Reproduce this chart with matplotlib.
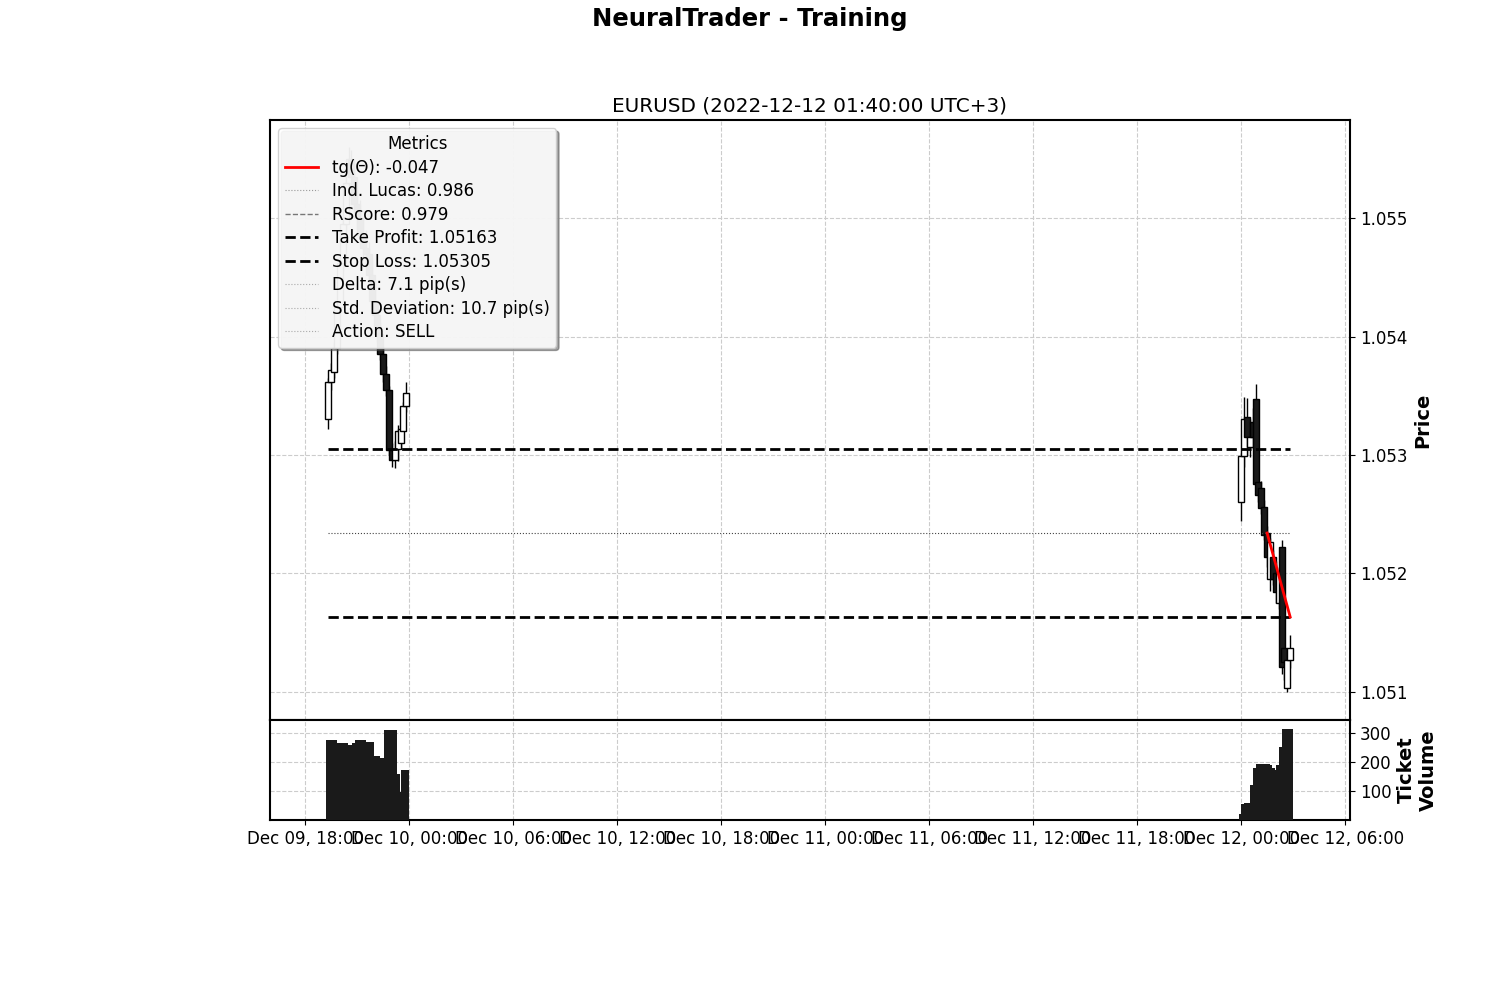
import numpy as np
import pandas as pd
import matplotlib
matplotlib.use("Agg")
import matplotlib.pyplot as plt
import matplotlib.dates as mdates
from matplotlib.lines import Line2D

# EURUSD 10-minute bars, two sessions (Fri evening / Mon morning)
left_times = pd.date_range("2022-12-09 19:20", "2022-12-09 23:50", freq="10min")
right_times = pd.date_range("2022-12-12 00:00", "2022-12-12 02:50", freq="10min")

opens_left = [1.05330, 1.05362, 1.05370, 1.05390, 1.05425, 1.05462, 1.05495, 1.05530,
              1.05550, 1.05535, 1.05512, 1.05500, 1.05486, 1.05475, 1.05470, 1.05452,
              1.05430, 1.05418, 1.05402, 1.05385, 1.05368, 1.05355, 1.05304, 1.05296,
              1.05305, 1.05310, 1.05320, 1.05341]
highs_left = [1.05365, 1.05378, 1.05395, 1.05430, 1.05470, 1.05500, 1.05540, 1.05560,
              1.05558, 1.05545, 1.05525, 1.05515, 1.05500, 1.05490, 1.05480, 1.05465,
              1.05445, 1.05428, 1.05412, 1.05392, 1.05375, 1.05358, 1.05310, 1.05312,
              1.05325, 1.05330, 1.05345, 1.05362]
lows_left = [1.05322, 1.05355, 1.05365, 1.05385, 1.05420, 1.05455, 1.05490, 1.05520,
             1.05525, 1.05505, 1.05490, 1.05478, 1.05465, 1.05462, 1.05445, 1.05425,
             1.05410, 1.05395, 1.05380, 1.05362, 1.05350, 1.05300, 1.05290, 1.05289,
             1.05295, 1.05305, 1.05315, 1.05336]
closes_left = [1.05362, 1.05372, 1.05390, 1.05425, 1.05462, 1.05495, 1.05530, 1.05550,
               1.05535, 1.05512, 1.05500, 1.05486, 1.05475, 1.05470, 1.05452, 1.05430,
               1.05418, 1.05402, 1.05385, 1.05368, 1.05355, 1.05304, 1.05296, 1.05305,
               1.05320, 1.05322, 1.05341, 1.05352]
volume_left = [276, 276, 276, 265, 265, 265, 265, 259, 259, 265, 276, 276, 276, 269,
               269, 269, 221, 221, 214, 214, 310, 310, 310, 310, 159, 97, 172, 172]

opens_right = [1.05260, 1.05299, 1.05332, 1.05307, 1.05328, 1.05347, 1.05277, 1.05272,
               1.05256, 1.05234, 1.05195, 1.05214, 1.05200, 1.05175, 1.05222, 1.05137,
               1.05103, 1.05127]
highs_right = [1.05302, 1.05349, 1.05348, 1.05330, 1.05340, 1.05360, 1.05285, 1.05278,
               1.05262, 1.05240, 1.05230, 1.05220, 1.05210, 1.05205, 1.05228, 1.05150,
               1.05130, 1.05148]
lows_right = [1.05244, 1.05290, 1.05300, 1.05298, 1.05305, 1.05270, 1.05260, 1.05250,
              1.05228, 1.05205, 1.05185, 1.05190, 1.05175, 1.05170, 1.05115, 1.05110,
              1.05100, 1.05120]
closes_right = [1.05299, 1.05330, 1.05315, 1.05315, 1.05315, 1.05275, 1.05266, 1.05255,
                1.05232, 1.05214, 1.05226, 1.05195, 1.05184, 1.05200, 1.05121, 1.05125,
                1.05127, 1.05137]
volume_right = [20, 55, 58, 60, 120, 180, 193, 193, 193, 193, 190, 180, 172, 190,
                252, 314, 314, 314]

stop_loss = 1.05305
take_profit = 1.05163
mean_price = 1.05234
trend_times = [pd.Timestamp("2022-12-12 01:30"), pd.Timestamp("2022-12-12 02:50")]
trend_prices = [1.05234, 1.05163]

legend_labels = ["tg(Θ): -0.047", "Ind. Lucas: 0.986", "RScore: 0.979",
                 "Take Profit: 1.05163", "Stop Loss: 1.05305", "Delta: 7.1 pip(s)",
                 "Std. Deviation: 10.7 pip(s)", "Action: SELL"]

times = left_times.append(right_times)
o = np.array(opens_left + opens_right)
h = np.array(highs_left + highs_right)
l = np.array(lows_left + lows_right)
c = np.array(closes_left + closes_right)
vol = np.array(volume_left + volume_right)
x = mdates.date2num(times)

dark = "#1a1a1a"
fig = plt.figure(figsize=(15, 10), dpi=100)
ax = fig.add_axes([0.18, 0.28, 0.72, 0.60])
axv = fig.add_axes([0.18, 0.18, 0.72, 0.10], sharex=ax)

# candles
up = c >= o
ax.vlines(x, l, h, color="black", linewidth=1, zorder=2)
ax.bar(x, np.abs(c - o), bottom=np.minimum(o, c), width=0.0145,
       color=np.where(up, "white", dark), edgecolor="black", linewidth=1, zorder=3)

# levels
ax.hlines(stop_loss, x[0], x[-1], colors="black", linestyles="--", linewidth=2, zorder=4)
ax.hlines(take_profit, x[0], x[-1], colors="black", linestyles="--", linewidth=2, zorder=4)
ax.hlines(mean_price, x[0], x[-1], colors="#444444", linestyles=":", linewidth=0.8, zorder=4)
ax.plot(mdates.date2num(trend_times), trend_prices, color="red", linewidth=2, zorder=5)

ax.set_ylim(1.05076, 1.05583)
ax.set_xlim(mdates.date2num(pd.Timestamp("2022-12-09 15:58")),
            mdates.date2num(pd.Timestamp("2022-12-12 06:17")))
ax.yaxis.tick_right()
ax.yaxis.set_label_position("right")
ax.set_yticks([1.051, 1.052, 1.053, 1.054, 1.055])
ax.set_ylabel("Price", fontsize=14, fontweight="bold")
ax.set_title("EURUSD (2022-12-12 01:40:00 UTC+3)", fontsize=14.4)
ax.grid(True, linestyle="--", color="#cccccc")
ax.tick_params(labelsize=12, labelbottom=False)

handles = [
    Line2D([], [], color="red", linewidth=2),
    Line2D([], [], color="#999999", linestyle=":", linewidth=0.8),
    Line2D([], [], color="#777777", linestyle="--", linewidth=1),
    Line2D([], [], color="black", linestyle="--", linewidth=2),
    Line2D([], [], color="black", linestyle="--", linewidth=2),
    Line2D([], [], color="#aaaaaa", linestyle=":", linewidth=0.8),
    Line2D([], [], color="#aaaaaa", linestyle=":", linewidth=0.8),
    Line2D([], [], color="#aaaaaa", linestyle=":", linewidth=0.8),
]
leg = ax.legend(handles, legend_labels, title="Metrics", loc="upper left", fontsize=12,
                title_fontsize=12, shadow=True, fancybox=True, framealpha=0.9,
                facecolor="white", labelspacing=0.33)
leg.set_zorder(10)

# volume
axv.bar(x, vol, width=0.012, color=dark, zorder=3)
axv.set_ylim(0, 345)
axv.yaxis.tick_right()
axv.yaxis.set_label_position("right")
axv.set_yticks([100, 200, 300])
axv.set_ylabel("Ticket\nVolume", fontsize=14, fontweight="bold")
axv.grid(True, linestyle="--", color="#cccccc")
axv.tick_params(labelsize=12)
axv.xaxis.set_major_locator(mdates.HourLocator(byhour=[0, 6, 12, 18]))
axv.xaxis.set_major_formatter(mdates.DateFormatter("%b %d, %H:%M"))

for a in (ax, axv):
    for s in a.spines.values():
        s.set_linewidth(1.5)

fig.suptitle("NeuralTrader - Training", fontsize=17.5, fontweight="bold", y=0.993)
fig.savefig("out.png")
